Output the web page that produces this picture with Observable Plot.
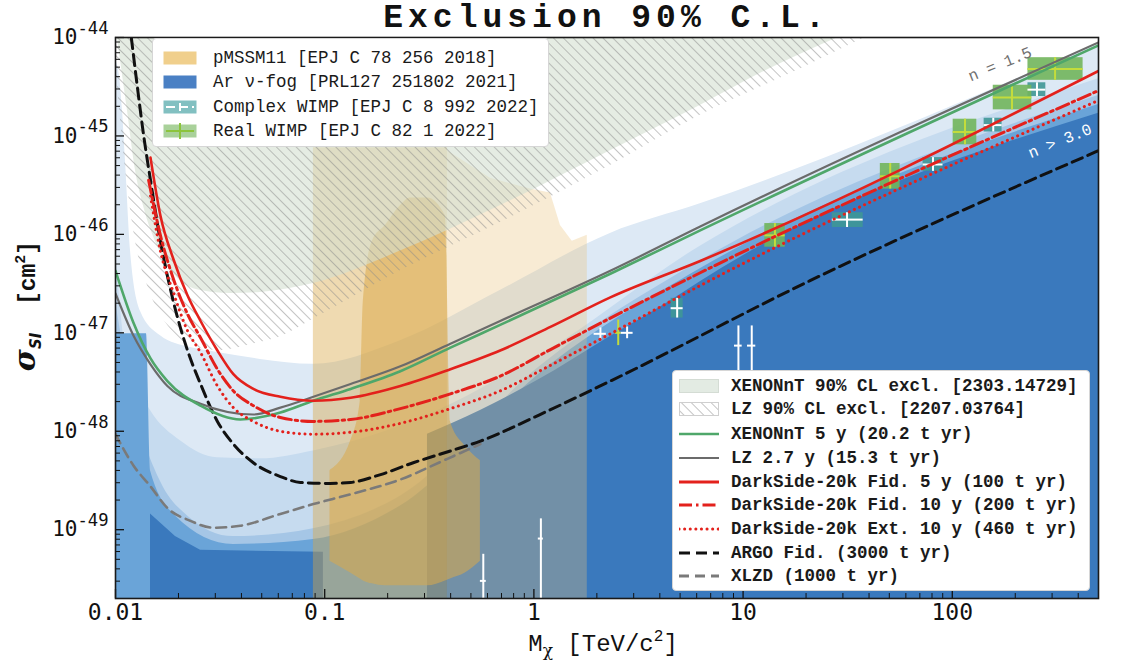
<!DOCTYPE html>
<html>
<head>
<meta charset="utf-8">
<script src="https://cdn.jsdelivr.net/npm/d3@7"></script>
<script src="https://cdn.jsdelivr.net/npm/@observablehq/plot@0.6"></script>
<style>
  html,body{margin:0;padding:0;background:#fff;}
  #wrap{position:relative;width:1121px;height:663px;overflow:hidden;}
  #title{position:absolute;top:0;left:115px;width:983px;text-align:center;font:bold 33px "Liberation Mono",monospace;color:#111;line-height:37px;letter-spacing:5px;}
  .legend{position:absolute;background:#fff;border:1px solid #d6d6d6;border-radius:4px;box-sizing:border-box;}
  .row{position:absolute;display:flex;align-items:center;white-space:pre;color:#1a1a1a;height:22px;}
  .row svg{flex:none;}
</style>
</head>
<body>
<svg width="0" height="0" style="position:absolute">
  <defs>
    <pattern id="lzHatch" patternUnits="userSpaceOnUse" width="7" height="7" patternTransform="rotate(-45)">
      <line x1="0" y1="0" x2="0" y2="7" stroke="#8a8a8a" stroke-width="1"/>
    </pattern>
  </defs>
</svg>
<div id="wrap">
  <div id="title">Exclusion 90% C.L.</div>
</div>
<script>
// ---------------- axis ticks ----------------
const xTickValues = [0.01, 0.1, 1, 10, 100, 500];
const xTickLabels = ["0.01", "0.1", "1", "10", "100", "500"];
const yTickValues = [1e-44, 1e-45, 1e-46, 1e-47, 1e-48, 1e-49];
const yTickExponents = ["-44", "-45", "-46", "-47", "-48", "-49"];

// ---------------- projected sensitivities: mass [TeV/c2], log10 sigma [cm2] ----------------
const xenon5yMass = [0.01, 0.0122, 0.0147, 0.0177, 0.0255, 0.0395, 0.0614, 0.0883, 0.133, 0.230, 0.399, 0.690, 2.32, 6.24, 500];
const xenon5yLogSigma = [-46.37, -46.90, -47.26, -47.49, -47.74, -47.88, -47.81, -47.69, -47.57, -47.39, -47.15, -46.92, -46.40, -45.96, -44.08];

const lz27yMass = [0.01, 0.0122, 0.0147, 0.0177, 0.0255, 0.0456, 0.0614, 0.0883, 0.133, 0.230, 0.399, 0.690, 2.32, 6.24, 500];
const lz27yLogSigma = [-46.60, -47.03, -47.32, -47.54, -47.72, -47.83, -47.76, -47.65, -47.52, -47.34, -47.11, -46.88, -46.37, -45.92, -44.05];

const ds5yMass = [0.0147, 0.0164, 0.0189, 0.0221, 0.0255, 0.0307, 0.0366, 0.0456, 0.0614, 0.0883, 0.133, 0.230, 0.399, 0.690, 1.20, 2.32, 6.24, 500];
const ds5yLogSigma = [-45.22, -45.81, -46.25, -46.62, -46.88, -47.18, -47.42, -47.57, -47.65, -47.69, -47.66, -47.54, -47.37, -47.18, -46.94, -46.64, -46.27, -44.34];

const ds10yMass = [0.0144, 0.0164, 0.0189, 0.0221, 0.0255, 0.0307, 0.0366, 0.0456, 0.0614, 0.0883, 0.133, 0.230, 0.399, 0.690, 1.20, 2.32, 6.24, 500];
const ds10yLogSigma = [-45.45, -46.01, -46.45, -46.81, -47.05, -47.37, -47.59, -47.74, -47.86, -47.90, -47.88, -47.77, -47.62, -47.44, -47.17, -46.85, -46.39, -44.54];

const dsExtMass = [0.0147, 0.0164, 0.0189, 0.0221, 0.0255, 0.0307, 0.0366, 0.0456, 0.0614, 0.0883, 0.133, 0.230, 0.399, 0.690, 1.20, 2.32, 6.24, 500];
const dsExtLogSigma = [-45.61, -46.17, -46.59, -46.98, -47.20, -47.54, -47.76, -47.90, -48.00, -48.03, -48.01, -47.92, -47.77, -47.59, -47.33, -47.01, -46.52, -44.64];

const argoMass = [0.0119, 0.0127, 0.0136, 0.0147, 0.0164, 0.0189, 0.0221, 0.0255, 0.0307, 0.0366, 0.0456, 0.0614, 0.0765, 0.106, 0.133, 0.185, 0.265, 0.399, 0.555, 1.07, 2.32, 20.9, 500];
const argoLogSigma = [-44.0, -44.49, -44.98, -45.45, -46.07, -46.68, -47.18, -47.52, -47.90, -48.13, -48.32, -48.46, -48.52, -48.53, -48.52, -48.44, -48.32, -48.20, -48.10, -47.83, -47.49, -46.47, -45.15];

const xlzdMass = [0.01, 0.0122, 0.0147, 0.0177, 0.0228, 0.0294, 0.0395, 0.0614, 0.0883, 0.133, 0.230, 0.386, 0.555];
const xlzdLogSigma = [-48.03, -48.35, -48.56, -48.78, -48.91, -48.98, -48.96, -48.84, -48.74, -48.64, -48.49, -48.28, -48.13];

// ---------------- current exclusions ----------------
const xenonExclMass = [0.0102, 0.0114, 0.01246, 0.0136, 0.01588, 0.01935, 0.0255, 0.0354, 0.0493, 0.0883, 0.230, 0.690, 2.32, 6.24, 12.75, 28.5];
const xenonExclLogSigma = [-44.0, -44.74, -45.35, -45.71, -46.12, -46.42, -46.57, -46.60, -46.59, -46.50, -46.17, -45.71, -45.15, -44.69, -44.34, -44.0];

const lzExclMass = [0.01, 0.01057, 0.01141, 0.01246, 0.0147, 0.01831, 0.02282, 0.0307, 0.04416, 0.0614, 0.0883, 0.230, 0.690, 2.32, 6.24, 18.75, 38.3];
const lzExclLogSigma = [-44.28, -44.84, -45.51, -46.07, -46.60, -46.96, -47.13, -47.18, -47.12, -47.04, -46.86, -46.37, -45.88, -45.30, -44.79, -44.32, -44.0];

// ---------------- argon neutrino fog (upper edges of the bands) ----------------
const fog1Mass = [0.01, 0.01045, 0.0108, 0.01116, 0.0118, 0.01316, 0.01641, 0.02282, 0.0307, 0.0493, 0.0883, 0.230, 0.690, 2.32, 6.24, 500];
const fog1LogSigma = [-44.23, -44.39, -44.74, -45.25, -46.17, -46.78, -47.03, -47.15, -47.20, -47.27, -47.32, -47.08, -46.57, -45.99, -45.69, -44.06];
const fog2Mass = [0.01, 0.01141, 0.0147, 0.0205, 0.0307, 0.0493, 0.0883, 0.230, 1.07, 6.24, 500];
const fog2LogSigma = [-46.17, -47.29, -47.79, -48.10, -48.27, -48.28, -48.20, -47.95, -47.23, -46.12, -44.42];
const fog3Mass = [0.01, 0.0122, 0.01641, 0.0221, 0.0366, 0.0883, 0.230, 1.07, 6.24, 500];
const fog3LogSigma = [-46.68, -47.69, -48.51, -48.86, -49.07, -48.99, -48.66, -47.34, -46.27, -44.59];
const fog4Mass = [0.01, 0.01406, 0.0147, 0.01935, 0.0366, 0.0883, 0.230, 1.07, 6.24, 500];
const fog4LogSigma = [-47.01, -47.01, -48.40, -48.86, -49.15, -49.10, -48.76, -47.41, -46.35, -44.68];
const fogDarkLowMass = [0.0147, 0.01935, 0.0255, 0.0986];
const fogDarkLowLogSigma = [-48.84, -49.07, -49.21, -49.23];
const fogDarkHighMass = [0.310, 0.555, 1.07, 2.07, 4.63, 6.24, 500];
const fogDarkHighLogSigma = [-48.03, -47.79, -47.47, -47.10, -46.66, -46.48, -44.77];
const fogLabels = ["n = 1.5", "n > 3.0"];
const fogLabelMass = [169, 327];
const fogLabelLogSigma = [-44.27, -45.05];

// ---------------- pMSSM11 ----------------
const pmssmBandMass = [0.0883, 0.386];
const pmssmBandTopLogSigma = -45.12;
const pmssmPaleMass = [0.386, 0.619, 0.962, 1.20, 1.34, 1.526, 1.80];
const pmssmPaleTopLogSigma = [-45.15, -45.43, -45.54, -45.58, -45.91, -46.07, -46.01];
const pmssmCoreMass = [0.106, 0.133, 0.148, 0.153, 0.169, 0.195, 0.230, 0.2567, 0.310, 0.3774, 0.399, 0.470, 0.555];
const pmssmCoreTopLogSigma = [-48.40, -48.10, -47.69, -46.68, -46.07, -45.91, -45.71, -45.63, -45.63, -45.81, -47.90, -48.15, -48.30];
const pmssmCoreBottomLogSigma = [-49.32, -49.44, -49.50, -49.52, -49.55, -49.57, -49.57, -49.57, -49.57, -49.52, -49.50, -49.44, -49.32];

// ---------------- WIMP models ----------------
const complexMass = [0.573, 1.08, 2.08, 2.79, 4.84, 9.5, 11.0, 31.4, 80.9, 157, 254];
const complexMassLo = [0.555, 1.05, 1.94, 2.61, 4.53, 9.1, 10.5, 26.7, 72.5, 142, 230];
const complexMassHi = [0.592, 1.11, 2.22, 2.98, 5.17, 9.9, 11.5, 37.5, 90.3, 173, 280];
const complexLogSigma = [-49.52, -49.09, -47.01, -47.00, -46.75, -47.13, -47.13, -45.85, -45.29, -44.89, -44.53];
const complexLogSigmaLo = [-50.0, -50.0, -47.07, -47.06, -46.85, -47.44, -47.44, -45.93, -45.36, -44.96, -44.60];
const complexLogSigmaHi = [-49.25, -48.89, -46.95, -46.94, -46.65, -46.93, -46.93, -45.78, -45.22, -44.82, -44.46];
const complexHasBox = [false, false, false, false, true, false, false, true, true, true, true];

const realMass = [2.53, 14.2, 50.5, 115, 193, 310];
const realMassLo = [2.45, 12.7, 45.3, 101, 157, 230];
const realMassHi = [2.61, 15.9, 56.3, 131, 240, 422];
const realLogSigma = [-47.0, -46.01, -45.41, -44.96, -44.61, -44.32];
const realLogSigmaLo = [-47.13, -46.13, -45.54, -45.09, -44.735, -44.435];
const realLogSigmaHi = [-46.87, -45.89, -45.28, -44.83, -44.485, -44.205];
const realHasBox = [false, true, true, true, true, true];

// ---------------- legend texts ----------------
const legendTopLabels = ["pMSSM11 [EPJ C 78 256 2018]", "Ar ν-fog [PRL127 251802 2021]", "Complex WIMP [EPJ C 8 992 2022]", "Real WIMP [EPJ C 82 1 2022]"];
const legendBottomLabels = ["XENONnT 90% CL excl. [2303.14729]", "LZ 90% CL excl. [2207.03764]", "XENONnT 5 y (20.2 t yr)", "LZ 2.7 y (15.3 t yr)", "DarkSide-20k Fid. 5 y (100 t yr)", "DarkSide-20k Fid. 10 y (200 t yr)", "DarkSide-20k Ext. 10 y (460 t yr)", "ARGO Fid. (3000 t yr)", "XLZD (1000 t yr)"];

// ================= drawing =================
const W = 1121, H = 663, mL = 115, mR = 23, mT = 37, mB = 65;
const innerW = W - mL - mR, innerH = H - mT - mB;
const yMin = 2e-50, yMax = 1e-44;
const P = e => Math.pow(10, e);
const pts = (mass, logS) => mass.map((m, i) => ({m, s: P(logS[i])}));

const C = {
  fog1: "#dde9f5", fog2: "#c6dbef", fog3: "#a5c6e6", fog4: "#6aa4d8", dark: "#3a79bd",
  green: "#4fa76a", grey: "#6b6b6b", red: "#e3211c", black: "#111111", xlzd: "#7a7a7a"
};

const band = (mass, logS, fill) => Plot.areaY(pts(mass, logS), {x: "m", y1: () => yMin, y2: "s", fill, curve: "monotone-x", clip: true});
const above = (mass, logS, opts) => Plot.areaY(pts(mass, logS), {x: "m", y1: "s", y2: () => 1e-43, curve: "monotone-x", clip: true, ...opts});
const curve = (mass, logS, opts) => Plot.line(pts(mass, logS), {x: "m", y: "s", curve: "monotone-x", clip: true, ...opts});

const complexData = complexMass.map((m, i) => ({m, lo: complexMassLo[i], hi: complexMassHi[i], s: P(complexLogSigma[i]), sLo: P(complexLogSigmaLo[i]), sHi: P(complexLogSigmaHi[i]), box: complexHasBox[i]}));
const realData = realMass.map((m, i) => ({m, lo: realMassLo[i], hi: realMassHi[i], s: P(realLogSigma[i]), sLo: P(realLogSigmaLo[i]), sHi: P(realLogSigmaHi[i]), box: realHasBox[i]}));

const pmssmCore = pmssmCoreMass.map((m, i) => ({m, top: P(pmssmCoreTopLogSigma[i]), bot: P(pmssmCoreBottomLogSigma[i])}));

const xMinor = [];
for (const d of [0.01, 0.1, 1, 10, 100]) for (let k = 2; k <= 9; k++) { const v = d * k; if (v <= 500) xMinor.push(v); }
const yMinor = [];
for (let e = -50; e <= -45; e++) for (let k = 2; k <= 9; k++) { const v = k * Math.pow(10, e); if (v >= yMin && v <= yMax) yMinor.push(v); }

const fogLabelData = fogLabels.map((t, i) => ({t, m: fogLabelMass[i], s: P(fogLabelLogSigma[i])}));

const svg = Plot.plot({
  width: W, height: H,
  marginLeft: mL, marginRight: mR, marginTop: mT, marginBottom: mB,
  x: {type: "log", domain: [0.01, 500], label: null},
  y: {type: "log", domain: [yMin, yMax], label: null},
  style: {background: "transparent", fontFamily: "DejaVu Sans Mono", overflow: "visible"},
  marks: [
    // neutrino fog
    band(fog1Mass, fog1LogSigma, C.fog1),
    band(fog2Mass, fog2LogSigma, C.fog2),
    band(fog3Mass, fog3LogSigma, C.fog3),
    band(fog4Mass, fog4LogSigma, C.fog4),
    Plot.areaY(pts(fogDarkLowMass, fogDarkLowLogSigma), {x: "m", y1: () => yMin, y2: "s", fill: C.dark, clip: true}),
    Plot.areaY(pts(fogDarkHighMass, fogDarkHighLogSigma), {x: "m", y1: () => yMin, y2: "s", fill: C.dark, curve: "monotone-x", clip: true}),
    // pMSSM11
    Plot.rect([0], {x1: () => pmssmBandMass[0], x2: () => pmssmBandMass[1], y1: () => yMin, y2: () => P(pmssmBandTopLogSigma), fill: "#d9a646", fillOpacity: 0.42, clip: true}),
    Plot.areaY(pts(pmssmPaleMass, pmssmPaleTopLogSigma), {x: "m", y1: () => yMin, y2: "s", fill: "#e9c27a", fillOpacity: 0.32, clip: true}),
    Plot.areaY(pmssmCore, {x: "m", y1: "bot", y2: "top", fill: "#dba94a", fillOpacity: 0.55, curve: "monotone-x", clip: true}),
    // current exclusions
    above(xenonExclMass, xenonExclLogSigma, {fill: "#d3dfd0", fillOpacity: 0.6}),
    above(lzExclMass, lzExclLogSigma, {fill: "url(#lzHatch)"}),
    // WIMP models
    Plot.rect(complexData.filter(d => d.box), {x1: "lo", x2: "hi", y1: "sLo", y2: "sHi", fill: "#3f9796", fillOpacity: 0.9, clip: true}),
    Plot.rect(realData.filter(d => d.box), {x1: "lo", x2: "hi", y1: "sLo", y2: "sHi", fill: "#71b55c", fillOpacity: 0.9, clip: true}),
    Plot.ruleX(complexData, {x: "m", y1: "sLo", y2: "sHi", stroke: "#ffffff", strokeWidth: 2, clip: true}),
    Plot.ruleY(complexData, {y: "s", x1: "lo", x2: "hi", stroke: "#ffffff", strokeWidth: 2, clip: true}),
    Plot.ruleX(realData, {x: "m", y1: "sLo", y2: "sHi", stroke: "#c3dc3c", strokeWidth: 2, clip: true}),
    Plot.ruleY(realData, {y: "s", x1: "lo", x2: "hi", stroke: "#c3dc3c", strokeWidth: 2, clip: true}),
    // projections
    curve(xlzdMass, xlzdLogSigma, {stroke: C.xlzd, strokeWidth: 2.6, strokeDasharray: "10,6"}),
    curve(argoMass, argoLogSigma, {stroke: C.black, strokeWidth: 3, strokeDasharray: "11,6"}),
    curve(lz27yMass, lz27yLogSigma, {stroke: C.grey, strokeWidth: 2.2}),
    curve(xenon5yMass, xenon5yLogSigma, {stroke: C.green, strokeWidth: 2.6}),
    curve(dsExtMass, dsExtLogSigma, {stroke: C.red, strokeWidth: 3, strokeDasharray: "0.1,5.5", strokeLinecap: "round"}),
    curve(ds10yMass, ds10yLogSigma, {stroke: C.red, strokeWidth: 3, strokeDasharray: "13,4,2.5,4"}),
    curve(ds5yMass, ds5yLogSigma, {stroke: C.red, strokeWidth: 2.6}),
    // fog labels
    Plot.text(fogLabelData.slice(0, 1), {x: "m", y: "s", text: "t", rotate: -22, fill: "#6f6f6f", fontSize: 16, fontFamily: "Liberation Mono"}),
    Plot.text(fogLabelData.slice(1), {x: "m", y: "s", text: "t", rotate: -22, fill: "#ffffff", fontSize: 16, fontFamily: "Liberation Mono"}),
    // ticks
    Plot.ruleX(xTickValues.slice(0, 5), {x: d => d, insetTop: innerH - 9, stroke: "#111", strokeWidth: 1.3}),
    Plot.ruleX(xMinor, {x: d => d, insetTop: innerH - 5, stroke: "#111", strokeWidth: 1}),
    Plot.ruleY(yTickValues, {y: d => d, insetRight: innerW - 9, stroke: "#111", strokeWidth: 1.3}),
    Plot.ruleY(yMinor, {y: d => d, insetRight: innerW - 5, stroke: "#111", strokeWidth: 1}),
    Plot.frame({stroke: "#1a1a1a", strokeWidth: 1.6}),
    Plot.axisX({ticks: xTickValues, tickFormat: d => xTickLabels[xTickValues.indexOf(d)], tickSize: 0, tickPadding: 5, fontSize: 23, fontFamily: "DejaVu Sans Mono", fill: "#111"}),
    Plot.axisY({ticks: yTickValues, tickFormat: d => "10^" + yTickExponents[yTickValues.indexOf(d)], tickSize: 0, tickPadding: 7, fontSize: 21, fontFamily: "DejaVu Sans Mono", fill: "#111"})
  ]
});

// superscripts on y tick labels
d3.select(svg).selectAll("g").filter(function () { return (this.getAttribute("aria-label") || "").includes("y-axis tick label"); })
  .selectAll("text").each(function () {
    const parts = this.textContent.split("^");
    const t = d3.select(this);
    t.text(parts[0]);
    t.append("tspan").attr("dy", "-0.6em").attr("font-size", "0.82em").text(parts[1]);
  });

// axis titles
const sv = d3.select(svg);
const yl = sv.append("text").attr("transform", "translate(35,306) rotate(-90)").attr("text-anchor", "middle").attr("fill", "#111").attr("font-weight", "bold");
yl.append("tspan").attr("font-family", "DejaVu Serif").attr("font-style", "italic").attr("font-size", 30).text("σ");
yl.append("tspan").attr("font-family", "DejaVu Sans").attr("font-style", "italic").attr("font-size", 15).attr("dy", 6).text("SI");
yl.append("tspan").attr("font-family", "Liberation Mono").attr("font-size", 23).attr("dy", -6).text("\u00a0\u00a0[cm");
yl.append("tspan").attr("font-family", "Liberation Mono").attr("font-size", 15).attr("dy", -10).text("2");
yl.append("tspan").attr("font-family", "Liberation Mono").attr("font-size", 23).attr("dy", 10).text("]");

const xl = sv.append("text").attr("x", 603).attr("y", 651).attr("text-anchor", "middle").attr("fill", "#111").attr("font-family", "Liberation Mono");
xl.append("tspan").attr("font-size", 24).text("M");
xl.append("tspan").attr("font-size", 17).attr("dy", 5).attr("font-family", "DejaVu Serif").text("χ");
xl.append("tspan").attr("font-size", 24).attr("dy", -5).text("\u00a0[TeV/c");
xl.append("tspan").attr("font-size", 16).attr("dy", -10).text("2");
xl.append("tspan").attr("font-size", 24).attr("dy", 10).text("]");

const wrap = document.getElementById("wrap");
wrap.insertBefore(svg, wrap.firstChild);

// ---------------- legends ----------------
const rectSw = (w, fill, stroke) => `<rect x="0.5" y="1.5" width="${w - 1}" height="13" fill="${fill}" stroke="${stroke || "none"}"/>`;
const lineSw = (w, stroke, sw, dash, cap) => `<line x1="0" x2="${w}" y1="8" y2="8" stroke="${stroke}" stroke-width="${sw}" ${dash ? `stroke-dasharray="${dash}"` : ""} stroke-linecap="${cap || "butt"}"/>`;

const topSwatches = [
  rectSw(34, "#f0cf8c"),
  rectSw(34, "#4a80c4"),
  rectSw(34, "#82c0c1") + `<line x1="3" x2="31" y1="8" y2="8" stroke="#fff" stroke-width="2" stroke-dasharray="9,4"/><line x1="17" x2="17" y1="4" y2="12" stroke="#fff" stroke-width="2"/>`,
  rectSw(34, "#a9d19a") + `<line x1="3" x2="31" y1="8" y2="8" stroke="#8cc43c" stroke-width="2"/><line x1="17" x2="17" y1="0" y2="16" stroke="#8cc43c" stroke-width="2"/>`
];
const bottomSwatches = [
  rectSw(40, "#e3ebe3", "#d4dcd4"),
  rectSw(40, "url(#lzHatch)", "#cfcfcf"),
  lineSw(40, C.green, 2.6),
  lineSw(40, C.grey, 2.2),
  lineSw(40, C.red, 3),
  lineSw(40, C.red, 3, "13,4,2.5,4"),
  lineSw(40, C.red, 3, "0.1,5.5", "round"),
  lineSw(40, C.black, 3, "11,6"),
  lineSw(40, C.xlzd, 3, "10,6")
];

function addLegend(left, top, w, h, labels, swatches, rowCenters, swX, swW, textX, weight) {
  const box = document.createElement("div");
  box.className = "legend";
  Object.assign(box.style, {left: left + "px", top: top + "px", width: w + "px", height: h + "px"});
  labels.forEach((lab, i) => {
    const row = document.createElement("div");
    row.className = "row";
    row.style.top = (rowCenters[i] - 11) + "px";
    row.style.left = swX + "px";
    row.innerHTML = `<svg width="${swW}" height="16">${swatches[i]}</svg><span style="margin-left:${textX - swX - swW}px;font:${weight} 17.5px 'Liberation Mono',monospace">${lab}</span>`;
    box.appendChild(row);
  });
  wrap.appendChild(box);
}
addLegend(152, 38, 397, 109, legendTopLabels, topSwatches, [19, 43, 68, 92], 10, 34, 60, "normal");
addLegend(672, 370, 418, 221, legendBottomLabels, bottomSwatches, [15, 38, 63, 87, 111, 134, 158, 182, 205], 6, 40, 58, "bold");
</script>
</body>
</html>
